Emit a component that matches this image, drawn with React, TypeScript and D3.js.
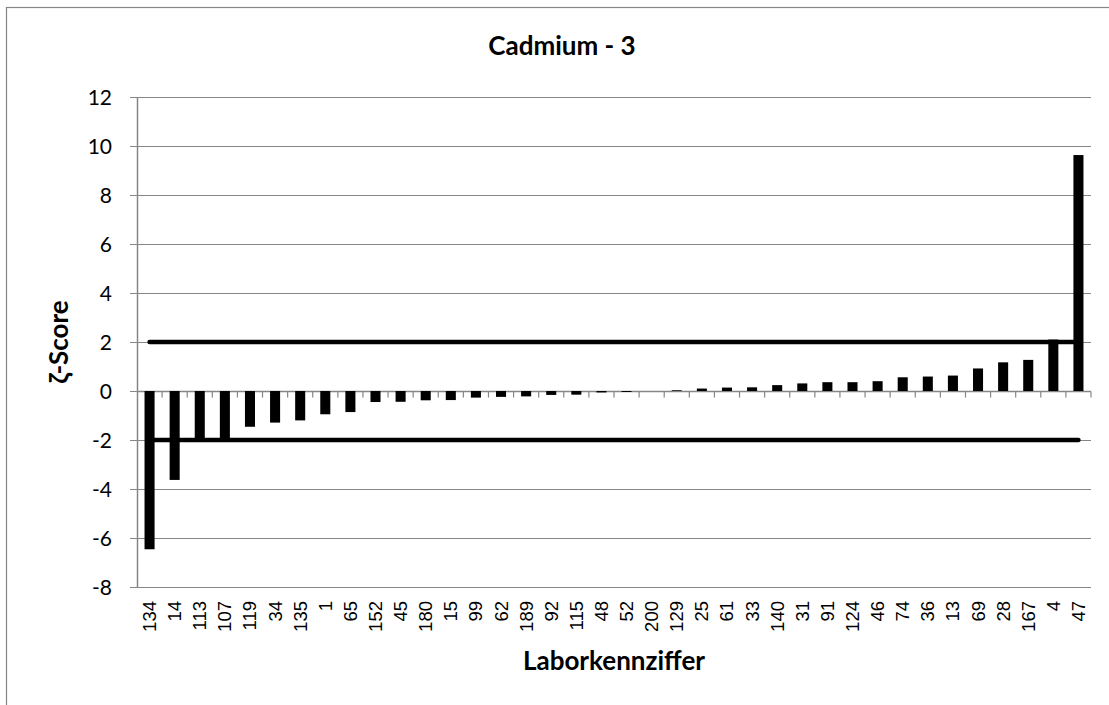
import React, { useEffect, useRef } from "react";
import * as d3 from "d3";

// Laborkennziffer (category order as shown)
const labs = [
  "134", "14", "113", "107", "119", "34", "135", "1", "65", "152",
  "45", "180", "15", "99", "62", "189", "92", "115", "48", "52",
  "200", "129", "25", "61", "33", "140", "31", "91", "124", "46",
  "74", "36", "13", "69", "28", "167", "4", "47",
];

// zeta-scores
const zetaScores = [
  -6.46, -3.63, -1.98, -1.97, -1.46, -1.29, -1.2, -0.95, -0.86, -0.45,
  -0.44, -0.38, -0.37, -0.27, -0.24, -0.22, -0.16, -0.15, -0.06, -0.04,
  0, 0.03, 0.1, 0.14, 0.15, 0.24, 0.31, 0.36, 0.36, 0.4,
  0.56, 0.59, 0.63, 0.92, 1.17, 1.27, 2.1, 9.63,
];

const limits = [2, -2];
const yTicks = [-8, -6, -4, -2, 0, 2, 4, 6, 8, 10, 12];

const W = 1109;
const H = 705;

export default function App() {
  const svgRef = useRef<SVGSVGElement | null>(null);

  useEffect(() => {
    if (!svgRef.current) return;
    const svg = d3.select(svgRef.current);
    svg.selectAll("*").remove();

    const grey = "#868686";
    const calibriLike = "Lato, 'Open Sans', sans-serif";

    const x = d3.scaleBand<string>().domain(labs).range([137, 1091]).padding(0);
    const y = d3.scaleLinear().domain([-8, 12]).range([587, 97]);
    const bw = x.bandwidth();
    const barW = bw * 0.4;

    // chart area border (only top and left visible)
    svg.append("rect")
      .attr("x", 6.5).attr("y", 7.5)
      .attr("width", 1120).attr("height", 720)
      .attr("fill", "#fff")
      .attr("stroke", grey)
      .attr("stroke-width", 1.2);

    // gridlines
    svg.append("g")
      .selectAll("line")
      .data(yTicks)
      .enter()
      .append("line")
      .attr("x1", 130).attr("x2", 1091)
      .attr("y1", (d) => Math.round(y(d)) + 0.5)
      .attr("y2", (d) => Math.round(y(d)) + 0.5)
      .attr("stroke", grey)
      .attr("stroke-width", 1.2);

    // value axis line
    svg.append("line")
      .attr("x1", 137.5).attr("x2", 137.5)
      .attr("y1", y(12)).attr("y2", y(-8))
      .attr("stroke", grey)
      .attr("stroke-width", 1.5);

    svg.append("g")
      .selectAll("text")
      .data(yTicks)
      .enter()
      .append("text")
      .attr("x", 112)
      .attr("y", (d) => y(d))
      .attr("dy", "0.36em")
      .attr("text-anchor", "end")
      .style("font-family", calibriLike)
      .style("font-size", "21px")
      .attr("fill", "#000")
      .text((d) => String(d));

    // category axis at zero with ticks between categories
    const y0 = Math.round(y(0)) + 0.5;
    svg.append("line")
      .attr("x1", 137).attr("x2", 1091)
      .attr("y1", y0).attr("y2", y0)
      .attr("stroke", grey)
      .attr("stroke-width", 1.5);

    svg.append("g")
      .selectAll("line")
      .data(labs.slice(1).concat(["end"]))
      .enter()
      .append("line")
      .attr("x1", (d) => (d === "end" ? 1091 : x(d)!))
      .attr("x2", (d) => (d === "end" ? 1091 : x(d)!))
      .attr("y1", y0)
      .attr("y2", y0 + 6)
      .attr("stroke", grey)
      .attr("stroke-width", 1.2);

    // bars
    svg.append("g")
      .selectAll("rect")
      .data(labs.map((lab, i) => ({ lab, v: zetaScores[i] })))
      .enter()
      .append("rect")
      .attr("x", (d) => x(d.lab)! + (bw - barW) / 2)
      .attr("width", barW)
      .attr("y", (d) => Math.min(y(d.v), y(0)))
      .attr("height", (d) => Math.abs(y(d.v) - y(0)))
      .attr("fill", "#000");

    // +/-2 limit lines
    const first = x(labs[0])! + bw / 2;
    const last = x(labs[labs.length - 1])! + bw / 2;
    svg.append("g")
      .selectAll("line")
      .data(limits)
      .enter()
      .append("line")
      .attr("x1", first).attr("x2", last)
      .attr("y1", (d) => y(d)).attr("y2", (d) => y(d))
      .attr("stroke", "#000")
      .attr("stroke-width", 4.5)
      .attr("stroke-linecap", "round");

    // category labels, rotated
    svg.append("g")
      .selectAll("text")
      .data(labs)
      .enter()
      .append("text")
      .attr("transform", (d) => `translate(${x(d)! + bw / 2}, 601) rotate(-90)`)
      .attr("text-anchor", "end")
      .attr("dy", "0.35em")
      .style("font-family", "'Liberation Sans', Arial, sans-serif")
      .style("font-size", "18.5px")
      .attr("fill", "#000")
      .text((d) => d);

    // titles
    svg.append("text")
      .attr("x", 562).attr("y", 55)
      .attr("text-anchor", "middle")
      .style("font-family", calibriLike)
      .style("font-weight", "bold")
      .style("font-size", "26px")
      .text("Cadmium - 3");

    svg.append("text")
      .attr("x", 614).attr("y", 670)
      .attr("text-anchor", "middle")
      .style("font-family", calibriLike)
      .style("font-weight", "bold")
      .style("font-size", "26px")
      .text("Laborkennziffer");

    svg.append("text")
      .attr("transform", `translate(68, ${(y(12) + y(-8)) / 2}) rotate(-90)`)
      .attr("text-anchor", "middle")
      .style("font-family", calibriLike)
      .style("font-weight", "bold")
      .style("font-size", "26px")
      .text("ζ-Score");
  }, []);

  return (
    <svg
      ref={svgRef}
      width={W}
      height={H}
      viewBox={`0 0 ${W} ${H}`}
      style={{ position: "absolute", left: 0, top: 0, background: "#fff" }}
    />
  );
}
